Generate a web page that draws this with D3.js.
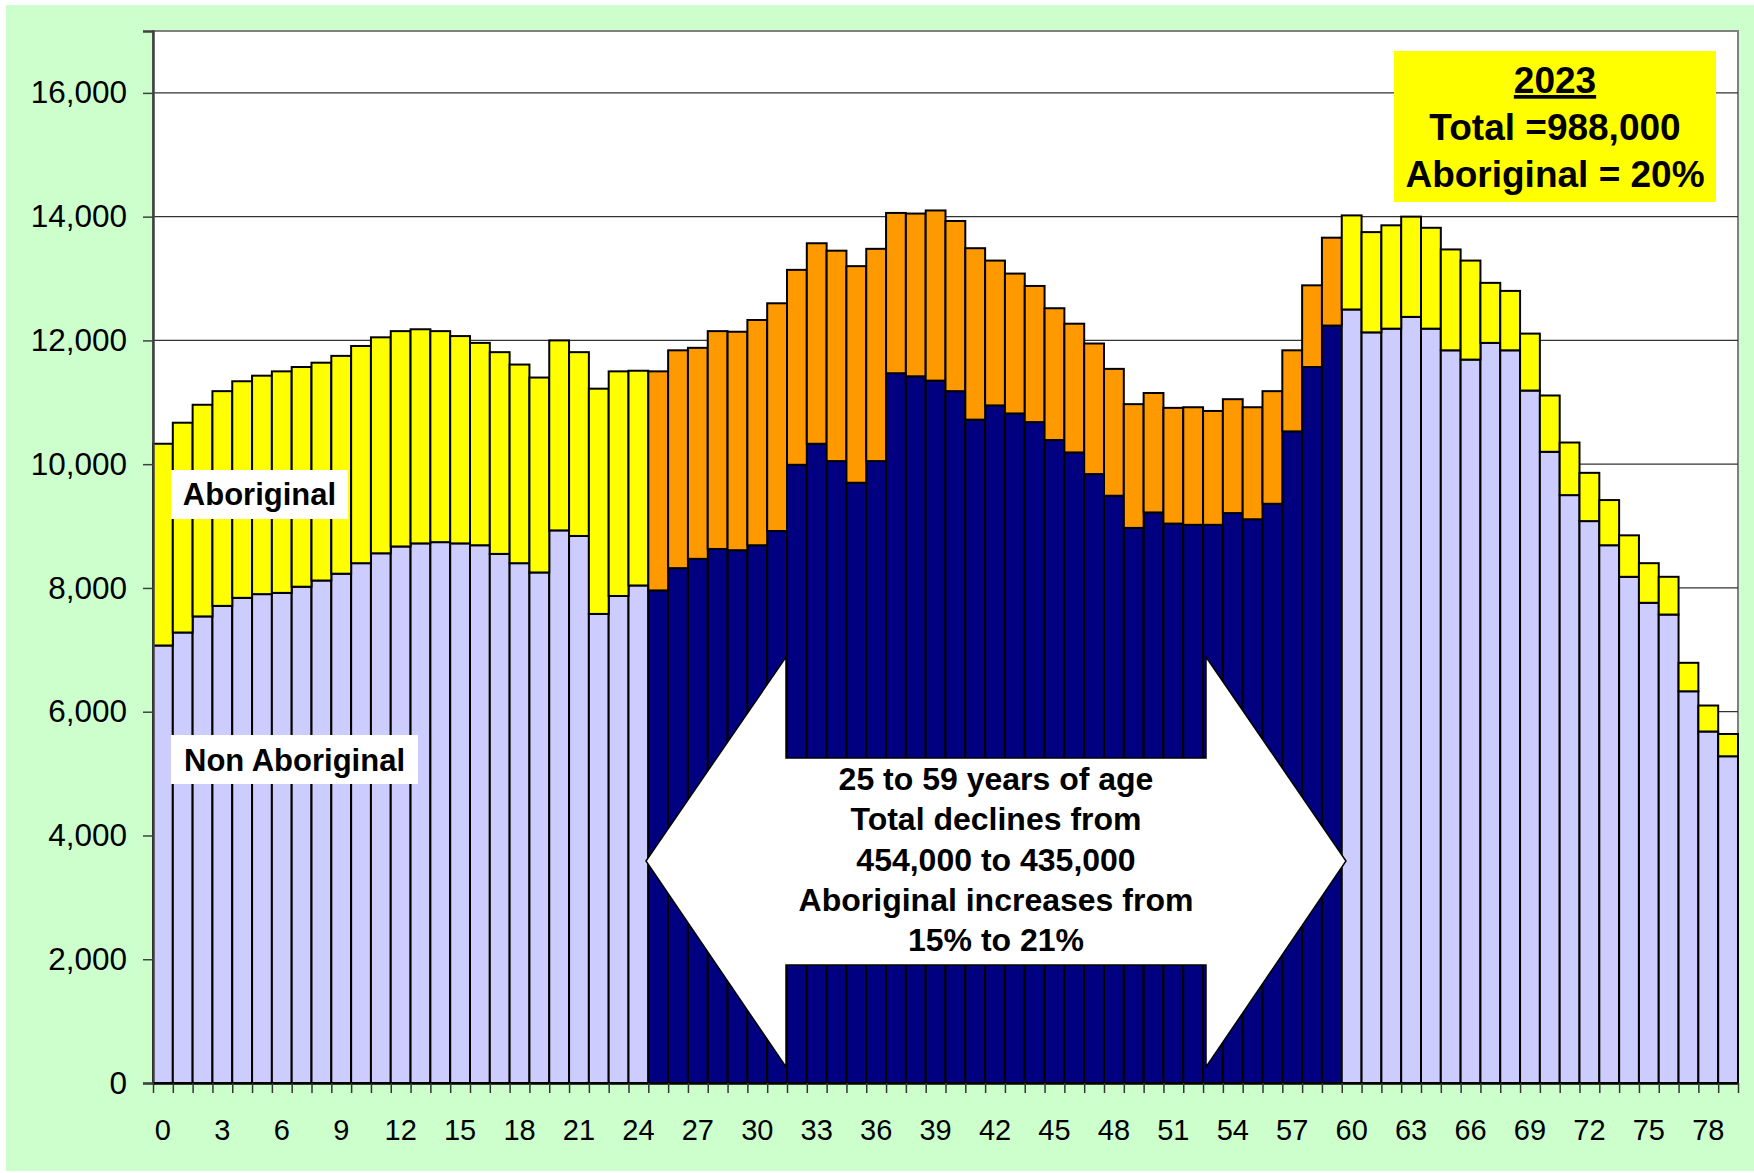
<!DOCTYPE html>
<html>
<head>
<meta charset="utf-8">
<script src="https://cdn.jsdelivr.net/npm/d3@7"></script>
<style>
    body { margin: 0; background: #ffffff; }
    svg { display: block; font-family: "Liberation Sans", Arial, sans-serif; }
</style>
</head>
<body>
<div id="chart"></div>
<script>
// single year of age, 0 to 79
const ages = d3.range(0, 80);

const nonAboriginal = [
    7070, 7280, 7540, 7710, 7840, 7900, 7920, 8020, 8120, 8230,
    8400, 8560, 8670, 8720, 8740, 8720, 8690, 8550, 8400, 8250,
    8930, 8840, 7580, 7870, 8040, 7960, 8320, 8470, 8630, 8610,
    8690, 8920, 9990, 10330, 10050, 9700, 10050, 11470, 11420, 11350,
    11180, 10720, 10950, 10820, 10680, 10390, 10190, 9840, 9490, 8970,
    9220, 9040, 9020, 9020, 9210, 9110, 9360, 10530, 11570, 12240,
    12500, 12130, 12190, 12380, 12190, 11840, 11690, 11960, 11840, 11190,
    10200, 9500, 9080, 8690, 8180, 7760, 7570, 6330, 5680, 5280
];

const aboriginal = [
    3260, 3390, 3420, 3470, 3500, 3530, 3580, 3550, 3520, 3520,
    3510, 3490, 3480, 3460, 3410, 3350, 3270, 3260, 3210, 3150,
    3070, 2970, 3640, 3630, 3470, 3540, 3520, 3410, 3520, 3530,
    3640, 3680, 3150, 3240, 3400, 3500, 3430, 2590, 2630, 2750,
    2750, 2770, 2340, 2260, 2200, 2130, 2080, 2110, 2050, 2000,
    1930, 1870, 1900, 1840, 1840, 1810, 1820, 1310, 1320, 1420,
    1520, 1620, 1670, 1620, 1630, 1630, 1600, 970, 960, 920,
    910, 850, 780, 730, 670, 640, 610, 460, 420, 360
];

// the 25 to 59 working age group is drawn in its own colours
const highlightAges = [25, 59];

const yTicks = [0, 2000, 4000, 6000, 8000, 10000, 12000, 14000, 16000];
const xLabelAges = d3.range(0, 80, 3);

const boxLines = ["2023", "Total =988,000", "Aboriginal = 20%"];
const arrowLines = [
    "25 to 59 years of age",
    "Total declines from",
    "454,000 to 435,000",
    "Aboriginal increases from",
    "15% to 21%"
];

const width = 1754,
    height = 1173,
    margin = {top: 31, right: 16, bottom: 90, left: 153};

const colors = {
    page: '#ccffcc',
    nonAb: '#ccccff',
    ab: '#ffff00',
    nonAbMid: '#000080',
    abMid: '#ff9900'
};

const inMid = a => a >= highlightAges[0] && a <= highlightAges[1];

const svg = d3.select('#chart').append('svg')
    .attr('width', width)
    .attr('height', height);

svg.append('rect')
    .attr('x', 6).attr('y', 5)
    .attr('width', width - 6).attr('height', height - 7)
    .attr('fill', colors.page);

const x = d3.scaleBand()
    .domain(ages)
    .range([margin.left, width - margin.right])
    .padding(0);

const y = d3.scaleLinear()
    .domain([0, 17000])
    .range([height - margin.bottom, margin.top]);

// plot area
svg.append('rect')
    .attr('x', margin.left)
    .attr('y', margin.top)
    .attr('width', width - margin.left - margin.right)
    .attr('height', height - margin.top - margin.bottom)
    .attr('fill', '#ffffff')
    .attr('stroke', '#808080')
    .attr('stroke-width', 2);

// gridlines
svg.append('g')
    .selectAll('line')
    .data(yTicks.filter(d => d > 0))
    .enter()
    .append('line')
    .attr('x1', margin.left)
    .attr('x2', width - margin.right)
    .attr('y1', d => y(d))
    .attr('y2', d => y(d))
    .attr('stroke', '#333')
    .attr('stroke-width', 1.3);

// stacked bars
const rows = ages.map((a, i) => ({age: a, non: nonAboriginal[i], ab: aboriginal[i]}));

const barsG = svg.append('g');

barsG.selectAll('rect.non')
    .data(rows)
    .enter()
    .append('rect')
    .attr('class', 'non')
    .attr('x', d => x(d.age))
    .attr('width', x.bandwidth())
    .attr('y', d => y(d.non))
    .attr('height', d => y(0) - y(d.non))
    .attr('fill', d => inMid(d.age) ? colors.nonAbMid : colors.nonAb)
    .attr('stroke', '#000')
    .attr('stroke-width', 2);

barsG.selectAll('rect.ab')
    .data(rows)
    .enter()
    .append('rect')
    .attr('class', 'ab')
    .attr('x', d => x(d.age))
    .attr('width', x.bandwidth())
    .attr('y', d => y(d.non + d.ab))
    .attr('height', d => y(d.non) - y(d.non + d.ab))
    .attr('fill', d => inMid(d.age) ? colors.abMid : colors.ab)
    .attr('stroke', '#000')
    .attr('stroke-width', 2);

// y axis
const gY = svg.append('g')
    .attr('transform', `translate(${margin.left},0)`)
    .call(d3.axisLeft(y)
        .tickValues(yTicks)
        .tickFormat(d3.format(','))
        .tickSize(10)
        .tickPadding(16));
gY.select('.domain').attr('stroke', '#404040').attr('stroke-width', 2.5);
gY.selectAll('.tick line').attr('stroke', '#404040').attr('stroke-width', 1.5);
gY.selectAll('text').attr('font-size', 31.5).attr('font-family', '"Liberation Sans", Arial, sans-serif').attr('fill', '#000');

// x axis: a tick at each band edge, a label every third year
const edge = d3.scaleLinear().domain([0, ages.length]).range(x.range());
const gXTicks = svg.append('g')
    .attr('transform', `translate(0,${y(0)})`)
    .call(d3.axisBottom(edge)
        .tickValues(d3.range(ages.length + 1))
        .tickFormat('')
        .tickSize(10)
        .tickSizeOuter(0));
gXTicks.select('.domain').attr('stroke', '#000').attr('stroke-width', 2.5);
gXTicks.selectAll('.tick line').attr('stroke', '#333').attr('stroke-width', 1.5);

const gX = svg.append('g')
    .attr('transform', `translate(0,${y(0)})`)
    .call(d3.axisBottom(x)
        .tickValues(xLabelAges)
        .tickSize(0)
        .tickPadding(36));
gX.select('.domain').remove();
gX.selectAll('text').attr('font-size', 29).attr('font-family', '"Liberation Sans", Arial, sans-serif').attr('fill', '#000');

// series labels
function labelBox(txt, bx, by, bw, bh, baseline) {
    svg.append('rect')
        .attr('x', bx).attr('y', by)
        .attr('width', bw).attr('height', bh)
        .attr('fill', '#fff');
    svg.append('text')
        .attr('x', bx + bw / 2)
        .attr('y', baseline)
        .attr('text-anchor', 'middle')
        .attr('font-size', 31)
        .attr('font-weight', 'bold')
        .text(txt);
}
labelBox('Aboriginal', 171, 470, 177, 49, 505);
labelBox('Non Aboriginal', 171, 735, 247, 49, 771);

// double headed arrow over the 25-59 group
const ax0 = 646, ax1 = 1346, shaftL = 786, shaftR = 1206,
    midY = 861, shaftT = 758, shaftB = 965, headT = 657, headB = 1067;
svg.append('polygon')
    .attr('points', [
        [ax0, midY], [shaftL, headT], [shaftL, shaftT], [shaftR, shaftT], [shaftR, headT],
        [ax1, midY], [shaftR, headB], [shaftR, shaftB], [shaftL, shaftB], [shaftL, headB]
    ].map(p => p.join(',')).join(' '))
    .attr('fill', '#fff')
    .attr('stroke', '#000')
    .attr('stroke-width', 1.5);

svg.append('g')
    .selectAll('text')
    .data(arrowLines)
    .enter()
    .append('text')
    .attr('x', (ax0 + ax1) / 2)
    .attr('y', (d, i) => 790 + i * 40.3)
    .attr('text-anchor', 'middle')
    .attr('font-size', 32)
    .attr('font-weight', 'bold')
    .text(d => d);

// summary box
svg.append('rect')
    .attr('x', 1394).attr('y', 51)
    .attr('width', 322).attr('height', 151)
    .attr('fill', '#ffff00');

svg.append('g')
    .selectAll('text')
    .data(boxLines)
    .enter()
    .append('text')
    .attr('x', 1555)
    .attr('y', (d, i) => 93 + i * 46.8)
    .attr('text-anchor', 'middle')
    .attr('font-size', 37)
    .attr('font-weight', 'bold')
    .attr('text-decoration', (d, i) => i === 0 ? 'underline' : null)
    .text(d => d);
</script>
</body>
</html>
